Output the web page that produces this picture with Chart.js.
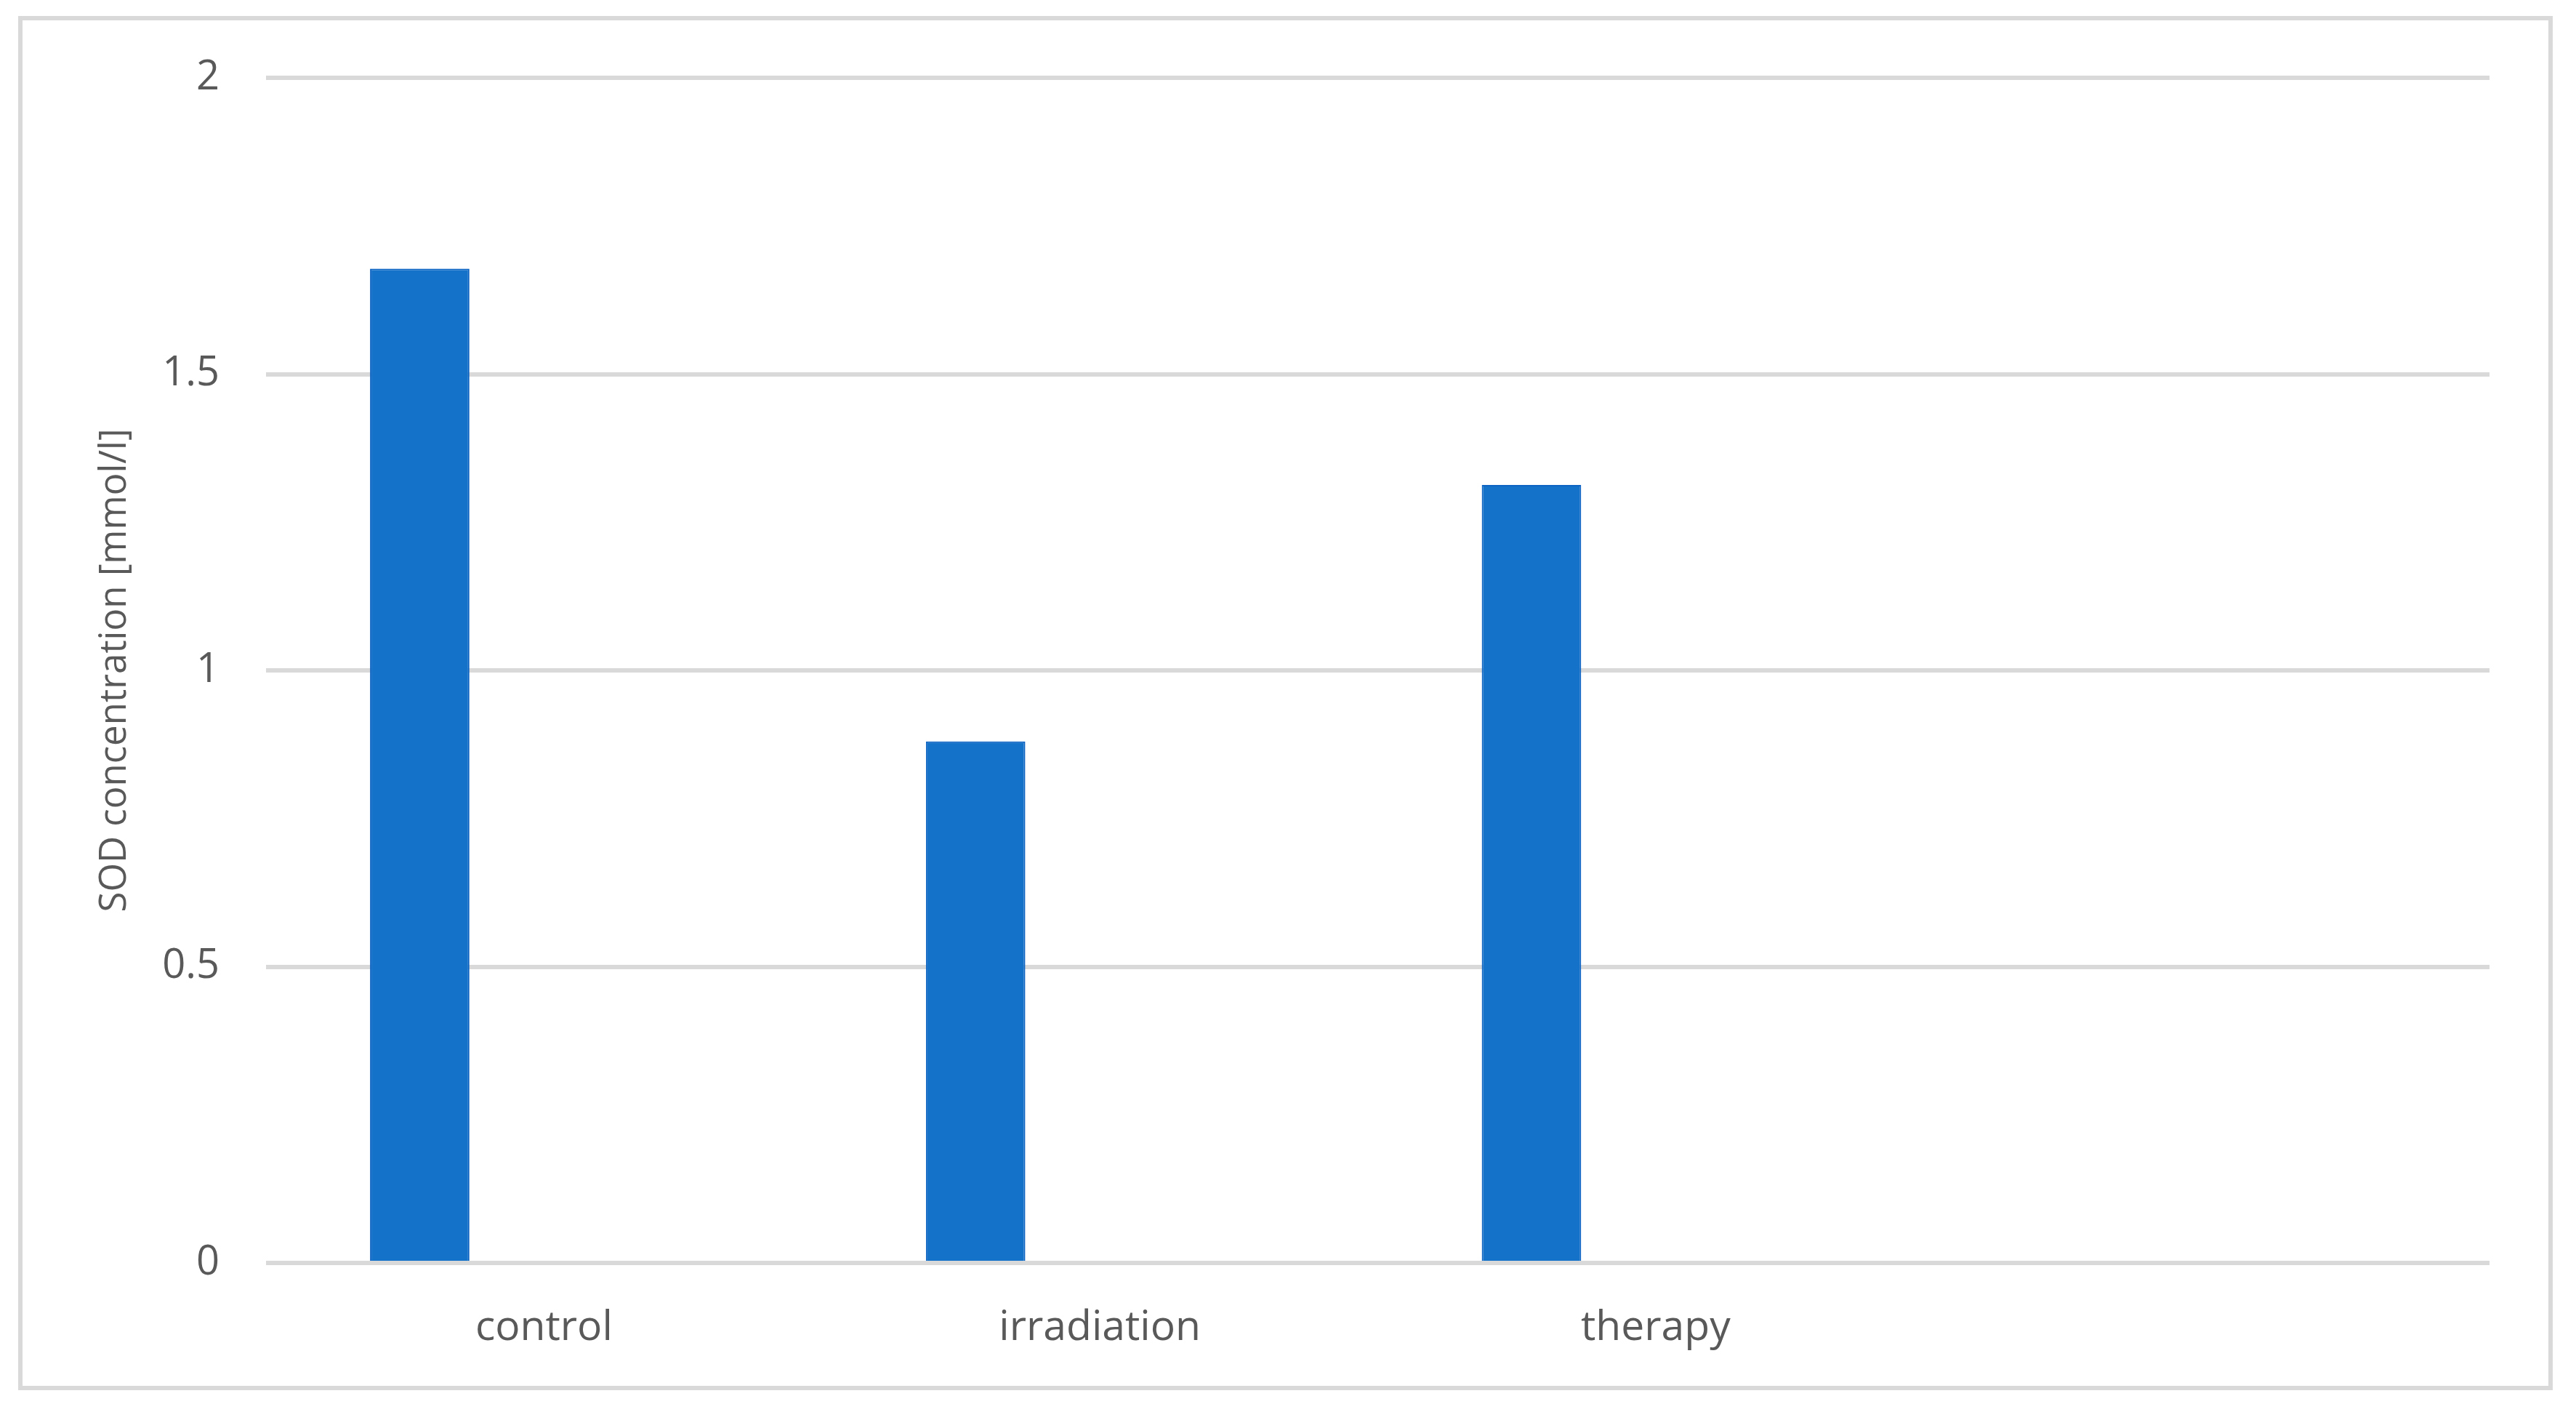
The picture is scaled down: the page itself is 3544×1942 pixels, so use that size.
<!DOCTYPE html>
<html>
<head>
<meta charset="utf-8">
<script src="https://cdn.jsdelivr.net/npm/chart.js@4/dist/chart.umd.min.js"></script>
<style>
  html, body { margin: 0; padding: 0; background: #fff; }
  #wrap { width: 3544px; height: 1942px; }
</style>
</head>
<body>
<div id="wrap"><canvas id="sodChart" width="3544" height="1942"></canvas></div>
<script>
// Data
const groups = ['control', 'irradiation', 'therapy', ''];
const sodValues = [1.678, 0.880, 1.313, null];
const spacerValues = [null, null, null, null]; // empty second series (keeps bars left in each slot)
const yTicks = { min: 0, max: 2, step: 0.5 };
const yTitle = 'SOD concentration [mmol/l]';

const GREY = '#595959';
const GRID = '#d9d9d9';

// Light grey frame round the whole chart, as in the reference
const framePlugin = {
  id: 'frame',
  beforeDraw(chart) {
    const ctx = chart.ctx;
    ctx.save();
    ctx.fillStyle = '#ffffff';
    ctx.fillRect(0, 0, chart.width, chart.height);
    ctx.strokeStyle = GRID;
    ctx.lineWidth = 6;
    ctx.strokeRect(28, 25, 3481, 1884);
    ctx.restore();
  },
};

new Chart(document.getElementById('sodChart'), {
  type: 'bar',
  data: {
    labels: groups,
    datasets: [
      { label: 'SOD', data: sodValues, backgroundColor: '#1572c9', borderColor: '#0d64c2', borderWidth: 2,
        categoryPercentage: 0.894, barPercentage: 0.40 },
      { label: '', data: spacerValues, backgroundColor: 'transparent',
        categoryPercentage: 0.894, barPercentage: 0.40 },
    ],
  },
  options: {
    responsive: false, animation: false,
    layout: { padding: { left: 0, right: 119, top: 107, bottom: 81 } },
    plugins: { legend: { display: false }, tooltip: { enabled: false } },
    scales: {
      x: {
        grid: { display: false, drawTicks: false },
        border: { display: false },
        ticks: { color: GREY, padding: 56, font: { family: 'Open Sans', size: 57 } },
        afterFit(scale) { scale.height = 124; },
      },
      y: {
        min: yTicks.min, max: yTicks.max,
        grid: { color: GRID, lineWidth: 6, drawTicks: false },
        border: { display: false },
        ticks: {
          stepSize: yTicks.step, color: GREY, padding: 64, font: { family: 'Open Sans', size: 56 },
          callback: v => String(v),
        },
        title: {
          display: true, text: yTitle, color: GREY,
          font: { family: 'Open Sans', size: 51 }, padding: { top: 128, bottom: 0 },
        },
        afterFit(scale) { scale.width = 366; },
      },
    },
  },
  plugins: [framePlugin],
});
</script>
</body>
</html>
